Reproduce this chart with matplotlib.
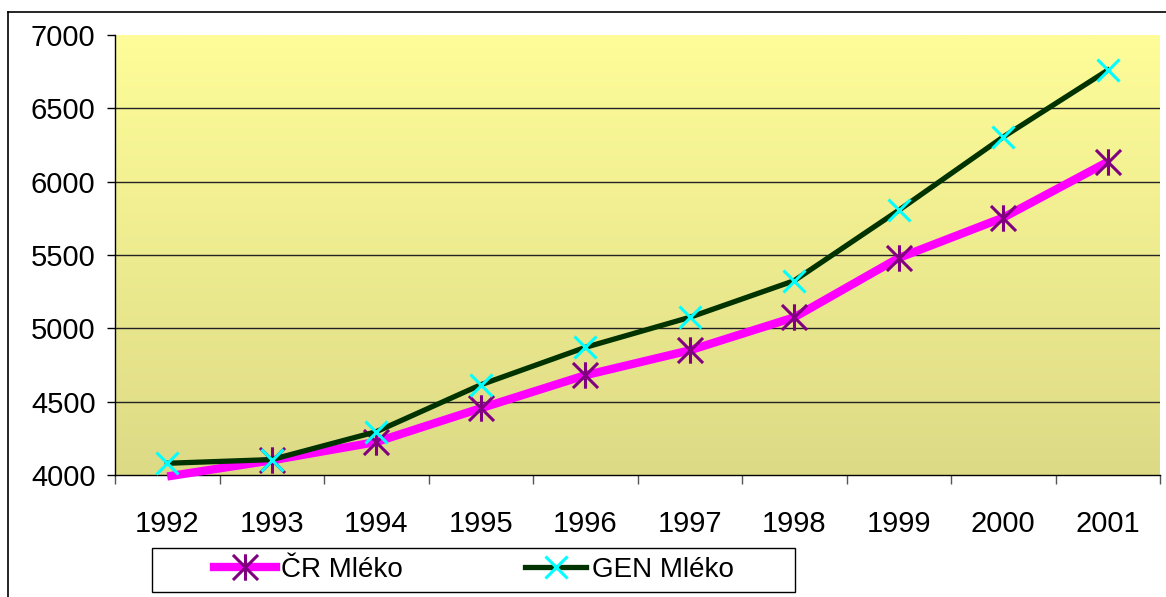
import numpy as np
import matplotlib
matplotlib.use("Agg")
import matplotlib.pyplot as plt
from matplotlib.path import Path
from matplotlib.lines import Line2D
from matplotlib.patches import Rectangle
from matplotlib.colors import LinearSegmentedColormap

# === Data ===
years = ["1992", "1993", "1994", "1995", "1996", "1997", "1998", "1999", "2000", "2001"]
cr_mleko = [3990, 4100, 4225, 4455, 4680, 4850, 5075, 5480, 5755, 6135]
gen_mleko = [4080, 4105, 4295, 4615, 4870, 5075, 5325, 5805, 6305, 6760]
y_ticks = [4000, 4500, 5000, 5500, 6000, 6500, 7000]

plt.rcParams['font.family'] = ['Liberation Sans', 'DejaVu Sans']

W, H = 1166, 597
fig = plt.figure(figsize=(W / 100, H / 100), dpi=100)

# plot area in pixel coords
left, right, top, bottom = 115, 1160, 35, 475
ax = fig.add_axes([left / W, 1 - bottom / H, (right - left) / W, (bottom - top) / H])

x = np.arange(len(years))
ax.set_xlim(-0.5, len(years) - 0.5)
ax.set_ylim(4000, 7000)

# gradient background
cmap = LinearSegmentedColormap.from_list("bg", ["#DDDA86", "#FEFD99"])
grad = np.linspace(0, 1, 256).reshape(-1, 1)
ax.imshow(grad, extent=[-0.5, len(years) - 0.5, 4000, 7000], origin="lower",
          cmap=cmap, aspect="auto", zorder=0)

# gridlines
for v in y_ticks[1:-1]:
    ax.axhline(v, color="#222222", lw=1.0, zorder=1)

# asterisk marker: vertical line + X
ast = Path([(0, -1), (0, 1), (-0.95, -0.95), (0.95, 0.95), (-0.95, 0.95), (0.95, -0.95)],
           [Path.MOVETO, Path.LINETO, Path.MOVETO, Path.LINETO, Path.MOVETO, Path.LINETO])

ax.plot(x, cr_mleko, color="#FF00FF", lw=6, solid_capstyle="butt", zorder=3, clip_on=False)
ax.plot(x[1:], cr_mleko[1:], ls="none", marker=ast, ms=19, mec="#800080", mew=2.2, zorder=4)
ax.plot(x, gen_mleko, color="#003300", lw=3.8, zorder=5)
ax.plot(x, gen_mleko, ls="none", marker="x", ms=16, mec="#00FFFF", mew=2.2, zorder=6)

# axes styling
for s in ["top", "right"]:
    ax.spines[s].set_visible(False)
ax.spines["left"].set_color("black")
ax.spines["bottom"].set_color("black")
ax.spines["left"].set_linewidth(1.0)
ax.spines["bottom"].set_linewidth(1.0)

ax.set_yticks(y_ticks)
ax.set_yticklabels([str(v) for v in y_ticks], fontsize=21)
ax.tick_params(axis="y", direction="out", length=6, width=1, pad=8)

ax.set_xticks(x)
ax.set_xticklabels(years, fontsize=21)
ax.set_xticks(np.arange(len(years) + 1) - 0.5, minor=True)
ax.tick_params(axis="x", which="major", length=0, pad=25)
ax.tick_params(axis="x", which="minor", direction="out", length=6.5, width=1, colors="#555555")

# outer chart frame (only top and left visible)
fig.add_artist(Line2D([8 / W, 8 / W], [0, 1 - 12 / H], color="black", lw=1.2))
fig.add_artist(Line2D([8 / W, 1], [1 - 12 / H, 1 - 12 / H], color="black", lw=1.2))

# legend box
fig.add_artist(Rectangle((152 / W, 1 - 592 / H), 643 / W, 44 / H, fill=False,
                         ec="black", lw=1.0, transform=fig.transFigure))
h1 = Line2D([], [], color="#FF00FF", lw=6, marker=ast, ms=19, mec="#800080", mew=2.2)
h2 = Line2D([], [], color="#003300", lw=3.8, marker="x", ms=16, mec="#00FFFF", mew=2.2)
fig.legend([h1, h2], ["ČR Mléko", "GEN Mléko"], loc="center",
           bbox_to_anchor=(474 / W, 1 - 570 / H), ncol=2, frameon=False,
           fontsize=20, handlelength=2.2, handletextpad=0.2, columnspacing=4.4)

fig.savefig("out.png", dpi=100, facecolor="white")
